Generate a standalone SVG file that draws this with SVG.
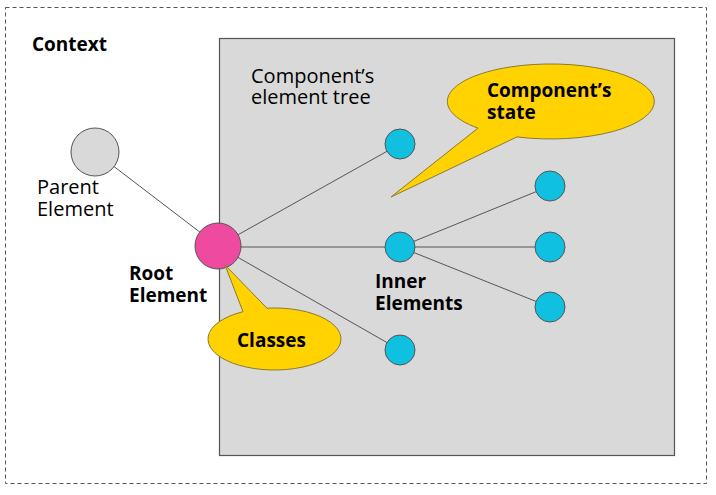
<svg xmlns="http://www.w3.org/2000/svg" width="716" height="495" viewBox="0 0 716 495">
<style>
text{font-family:"Open Sans","Liberation Sans",sans-serif;font-size:20px;fill:#000}
.b{font-weight:bold;font-size:19px}
.ln{stroke:#555;stroke-width:1;fill:none}
.blue{fill:#0fc0e0;stroke:#555;stroke-width:1}
.call{fill:#ffd200;stroke:#8a7a30;stroke-width:1}
</style>
<rect x="5.5" y="7.5" width="701" height="476" fill="#fff" stroke="#555" stroke-dasharray="4,3"/>
<text class="b" x="32" y="51">Context</text>
<rect id="component" x="219.5" y="38.5" width="455" height="417" fill="#d9d9d9" stroke="#555" stroke-width="1.2"/>
<text x="251" y="83">Component’s</text>
<text x="251" y="104">element tree</text>
<g id="connectors">
<line class="ln" x1="95" y1="152" x2="218" y2="246"/>
<line class="ln" x1="218" y1="246" x2="400" y2="144"/>
<line class="ln" x1="218" y1="247" x2="400" y2="247"/>
<line class="ln" x1="218" y1="246" x2="400" y2="350"/>
<line class="ln" x1="400" y1="247" x2="550" y2="186"/>
<line class="ln" x1="400" y1="247" x2="550" y2="247"/>
<line class="ln" x1="400" y1="247" x2="550" y2="307"/>
</g>
<g id="parent"><circle cx="95" cy="152" r="24" fill="#d9d9d9" stroke="#555"/><text x="37" y="194">Parent</text><text x="37" y="216">Element</text></g>
<g id="root"><circle cx="218" cy="246" r="23" fill="#ee4aa0" stroke="#555"/><text class="b" x="129" y="280">Root</text><text class="b" x="129" y="302">Element</text></g>
<g id="inner1"><circle class="blue" cx="400" cy="144" r="15"/></g>
<g id="inner2"><circle class="blue" cx="400" cy="247" r="15"/><text class="b" x="375" y="288">Inner</text><text class="b" x="375" y="310">Elements</text></g>
<g id="inner3"><circle class="blue" cx="400" cy="350" r="15"/></g>
<g id="leaf1"><circle class="blue" cx="550" cy="186" r="15"/></g>
<g id="leaf2"><circle class="blue" cx="550" cy="247" r="15"/></g>
<g id="leaf3"><circle class="blue" cx="550" cy="307" r="15"/></g>
<g id="state">
<path class="call" d="M478,128.1 A103.5,37.5 0 1 1 517,136.9 L391,197 Z"/>
<text class="b" x="487" y="97">Component’s</text><text class="b" x="487" y="119">state</text>
</g>
<g id="classes">
<path class="call" d="M243,311.7 A66.5,31 0 1 0 267,308.2 L225,265 Z"/>
<text class="b" x="237" y="347">Classes</text>
</g>
</svg>
